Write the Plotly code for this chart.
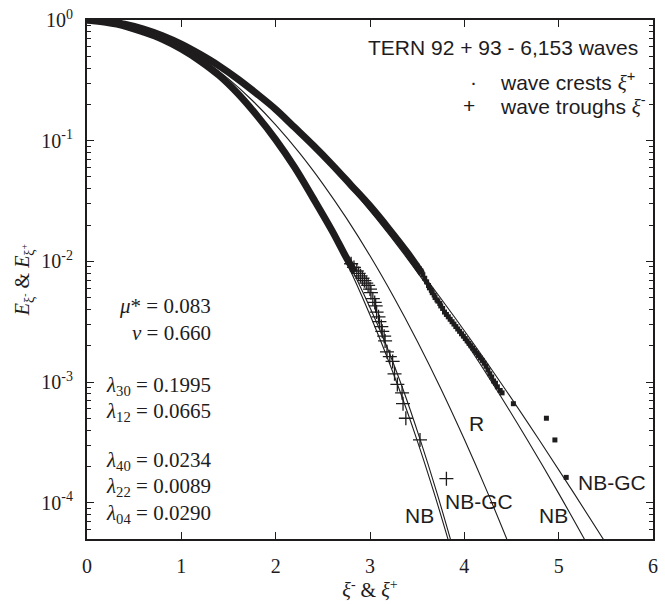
import plotly.graph_objects as go

# ---------------- data ----------------
# exceedance levels shared by the theoretical curves
E_levels = [1.0, 0.9692, 0.8825, 0.7548, 0.6065, 0.4578, 0.3247, 0.2163, 0.1353,
            0.0796, 0.0439, 0.02279, 0.01111, 0.005086, 0.002187, 0.000884,
            0.000335, 0.0001194, 0.0000401]
R_x = [0.0, 0.25, 0.5, 0.75, 1.0, 1.25, 1.5, 1.75, 2.0, 2.25, 2.5, 2.75, 3.0,
       3.25, 3.5, 3.75, 4.0, 4.25, 4.5]
NB_crest_x = [0.0, 0.253, 0.510, 0.773, 1.042, 1.315, 1.593, 1.877, 2.166, 2.460,
              2.759, 3.064, 3.374, 3.688, 4.008, 4.334, 4.664, 5.000, 5.340]
NBGC_crest_x = [0.0, 0.253, 0.510, 0.773, 1.042, 1.315, 1.594, 1.880, 2.172, 2.470,
                2.775, 3.088, 3.409, 3.738, 4.078, 4.428, 4.789, 5.163, 5.550]
NB_trough_x = [0.0, 0.248, 0.492, 0.732, 0.969, 1.201, 1.429, 1.654, 1.874, 2.091,
               2.303, 2.512, 2.717, 2.917, 3.114, 3.307, 3.496, 3.681, 3.862]
NBGC_trough_x = [0.0, 0.248, 0.492, 0.732, 0.969, 1.201, 1.429, 1.655, 1.877, 2.097,
                 2.313, 2.527, 2.737, 2.947, 3.154, 3.347, 3.531, 3.711, 3.887]

# measured crests (dense part and sparse tail)
crest_band_x = [0.0, 0.2, 0.4, 0.6, 0.8, 1.0, 1.2, 1.4, 1.6, 1.8, 2.0, 2.2, 2.4,
                2.6, 2.8, 3.0, 3.2, 3.4, 3.55]
crest_band_E = [1.0, 0.977, 0.923, 0.841, 0.741, 0.631, 0.519, 0.417, 0.324, 0.245,
                0.182, 0.129, 0.0912, 0.0631, 0.0427, 0.0288, 0.0186, 0.0117, 0.00794]
crest_tail_x = [3.50, 3.52, 3.54, 3.56, 3.58, 3.60, 3.62, 3.63, 3.65, 3.66, 3.68,
                3.69, 3.71, 3.72, 3.74, 3.75, 3.77, 3.79, 3.81, 3.83, 3.85, 3.87,
                3.89, 3.91, 3.93, 3.95, 3.97, 3.99, 4.01, 4.03, 4.05, 4.07, 4.09,
                4.11, 4.13, 4.15, 4.17, 4.19, 4.21, 4.23, 4.25, 4.27, 4.29, 4.31,
                4.33, 4.35, 4.38, 4.40, 4.52, 4.87, 4.96, 5.08]
crest_tail_E = [0.00912, 0.00871, 0.00832, 0.00776, 0.00724, 0.00676, 0.00631,
                0.00603, 0.00575, 0.00550, 0.00525, 0.00501, 0.00479, 0.00468,
                0.00447, 0.00427, 0.00407, 0.00380, 0.00363, 0.00347, 0.00331,
                0.00316, 0.00302, 0.00288, 0.00275, 0.00263, 0.00251, 0.00240,
                0.00229, 0.00219, 0.00209, 0.00200, 0.00191, 0.00182, 0.00174,
                0.00166, 0.00158, 0.00151, 0.00143, 0.00135, 0.00126, 0.00117,
                0.00110, 0.00102, 0.000977, 0.000912, 0.000851, 0.000813,
                0.000661, 0.000501, 0.000331, 0.000162]

# measured troughs (dense part and sparse tail)
trough_band_x = [0.0, 0.2, 0.4, 0.6, 0.8, 1.0, 1.2, 1.4, 1.6, 1.8, 2.0, 2.2, 2.4,
                 2.6, 2.75, 2.84]
trough_band_E = [1.0, 0.955, 0.891, 0.794, 0.692, 0.575, 0.457, 0.347, 0.245, 0.162,
                 0.102, 0.0603, 0.0331, 0.0178, 0.0107, 0.00813]
trough_tail_x = [2.80, 2.83, 2.86, 2.88, 2.90, 2.92, 2.94, 2.96, 2.98, 3.00, 3.01,
                 3.03, 3.05, 3.06, 3.07, 3.09, 3.10, 3.12, 3.13, 3.15, 3.16, 3.18,
                 3.21, 3.24, 3.26, 3.29, 3.34, 3.35, 3.38, 3.53, 3.81]
trough_tail_E = [0.00955, 0.00891, 0.00832, 0.00794, 0.00759, 0.00724, 0.00692,
                 0.00661, 0.00631, 0.00589, 0.00550, 0.00490, 0.00457, 0.00427,
                 0.00380, 0.00347, 0.00316, 0.00288, 0.00263, 0.00240, 0.00219,
                 0.00178, 0.00162, 0.00148, 0.00117, 0.000955, 0.000813,
                 0.000661, 0.000501, 0.000331, 0.000158]

y_tick_vals = [1, 0.1, 0.01, 0.001, 0.0001]
y_tick_text = ["10<sup>0</sup>", "10<sup>-1</sup>", "10<sup>-2</sup>",
               "10<sup>-3</sup>", "10<sup>-4</sup>"]
x_tick_vals = [0, 1, 2, 3, 4, 5, 6]

stats_text = ["<i>μ</i>* = 0.083", "<i>ν</i> = 0.660",
              "<i>λ</i><sub>30</sub> = 0.1995", "<i>λ</i><sub>12</sub> = 0.0665",
              "<i>λ</i><sub>40</sub> = 0.0234", "<i>λ</i><sub>22</sub> = 0.0089",
              "<i>λ</i><sub>04</sub> = 0.0290"]
stats_logy = [-2.37, -2.59, -3.03, -3.25, -3.655, -3.87, -4.09]

curve_labels = ["R", "NB-GC", "NB", "NB", "NB-GC"]
curve_label_x = [4.13, 4.16, 3.52, 4.94, 5.57]
curve_label_logy = [-3.34, -3.99, -4.11, -4.11, -3.83]

# ---------------- figure ----------------
INK = "#1e1c1d"
SERIF = "Liberation Serif"
SANS = "Liberation Sans"

fig = go.Figure()

for xs in [R_x, NB_crest_x, NBGC_crest_x, NB_trough_x, NBGC_trough_x]:
    fig.add_trace(go.Scatter(x=xs, y=E_levels, mode="lines", line_shape="spline",
                             line=dict(color=INK, width=1.1), showlegend=False,
                             hoverinfo="skip"))

fig.add_trace(go.Scatter(x=crest_band_x, y=crest_band_E, mode="lines",
                         line=dict(color=INK, width=7), line_shape="spline",
                         name="wave crests", showlegend=False))
fig.add_trace(go.Scatter(x=trough_band_x, y=trough_band_E, mode="lines",
                         line=dict(color=INK, width=7), line_shape="spline",
                         name="wave troughs", showlegend=False))
fig.add_trace(go.Scatter(x=crest_tail_x, y=crest_tail_E, mode="markers",
                         marker=dict(symbol="square", size=5, color=INK),
                         showlegend=False))
fig.add_trace(go.Scatter(x=trough_tail_x, y=trough_tail_E, mode="markers",
                         marker=dict(symbol="cross-thin", size=10,
                                     line=dict(color=INK, width=1.3)),
                         showlegend=False))

ann = []
for t, ly in zip(stats_text, stats_logy):
    ann.append(dict(x=1.335, y=ly, xref="x", yref="y", text=t, showarrow=False,
                    xanchor="right", yanchor="middle",
                    font=dict(family=SERIF, size=21, color=INK)))
for t, lx, ly in zip(curve_labels, curve_label_x, curve_label_logy):
    ann.append(dict(x=lx, y=ly, xref="x", yref="y", text=t, showarrow=False,
                    xanchor="center", yanchor="middle",
                    font=dict(family=SANS, size=21, color=INK)))
ann.append(dict(x=5.86, y=-0.229, xref="x", yref="y",
                text="TERN 92 + 93 - 6,153 waves", showarrow=False,
                xanchor="right", yanchor="middle",
                font=dict(family=SANS, size=21, color=INK)))
ann.append(dict(x=4.10, y=-0.507, xref="x", yref="y", text="·", showarrow=False,
                xanchor="center", yanchor="middle",
                font=dict(family=SANS, size=21, color=INK)))
ann.append(dict(x=4.05, y=-0.711, xref="x", yref="y", text="+", showarrow=False,
                xanchor="center", yanchor="middle",
                font=dict(family=SANS, size=21, color=INK)))
ann.append(dict(x=4.36, y=-0.507, xref="x", yref="y",
                text='wave crests <span style="font-family:Liberation Serif"><i>ξ</i></span><sup>+</sup>',
                showarrow=False, xanchor="left", yanchor="middle",
                font=dict(family=SANS, size=21, color=INK)))
ann.append(dict(x=4.36, y=-0.711, xref="x", yref="y",
                text='wave troughs <span style="font-family:Liberation Serif"><i>ξ</i></span><sup>-</sup>',
                showarrow=False, xanchor="left", yanchor="middle",
                font=dict(family=SANS, size=21, color=INK)))

minor_vals = [m * 10.0 ** e for e in range(-5, 0) for m in range(2, 10) if m * 10.0 ** e >= 5e-5]

fig.update_layout(
    width=665, height=604,
    margin=dict(l=87, r=7, t=15, b=63),
    paper_bgcolor="white", plot_bgcolor="white",
    annotations=ann,
    showlegend=False,
    xaxis=dict(range=[0, 6], tickmode="array", tickvals=x_tick_vals,
               ticks="inside", ticklen=7, tickwidth=1.3, tickcolor=INK,
               showline=True, linecolor=INK, linewidth=2, mirror="ticks",
               showgrid=False, zeroline=False, ticklabelstandoff=8,
               tickfont=dict(family=SERIF, size=20, color=INK),
               title=dict(text="<i>ξ</i><sup>-</sup> & <i>ξ</i><sup>+</sup>",
                          font=dict(family=SERIF, size=20, color=INK), standoff=6)),
    yaxis=dict(type="log", range=[-4.30103, 0], tickmode="array",
               tickvals=y_tick_vals, ticktext=y_tick_text,
               ticks="inside", ticklen=7, tickwidth=1.3, tickcolor=INK,
               minor=dict(tickmode="array", tickvals=minor_vals, ticks="inside",
                          ticklen=4, tickwidth=1.1, tickcolor=INK, showgrid=False),
               showline=True, linecolor=INK, linewidth=2, mirror="ticks",
               showgrid=False, zeroline=False, ticklabelstandoff=8,
               tickfont=dict(family=SERIF, size=20, color=INK),
               title=dict(text="<i>E</i><sub>ξ<sup>-</sup></sub> & <i>E</i><sub>ξ<sup>+</sup></sub>",
                          font=dict(family=SERIF, size=20, color=INK), standoff=6)),
)

fig.write_html("out.html")
